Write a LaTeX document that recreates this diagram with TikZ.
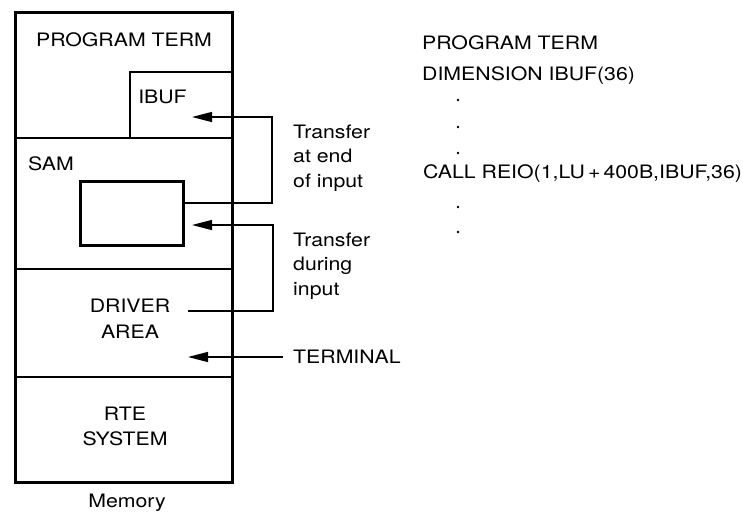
\documentclass[tikz,border=0pt]{standalone}
\usepackage{fontspec}
\setmainfont{TeX Gyre Heros}[FakeStretch=1.15]
\usetikzlibrary{arrows.meta}
\begin{document}
\begin{tikzpicture}[x=1pt,y=-1pt,
  txt/.style={font=\fontsize{18.5}{24.5}\selectfont, inner sep=0pt, anchor=base},
  ltxt/.style={txt, anchor=base west, align=left},
  memline/.style={line width=2pt},
  membox/.style={draw, line width=3pt, inner sep=0pt},
  conn/.style={line width=1.4pt},
  arr/.style={conn, -{Triangle[length=20pt,width=10pt]}},
  dotm/.style={circle, fill, inner sep=0pt, minimum size=2.6pt}]
\useasboundingbox (0,0) rectangle (743,517);
% memory outer box
\node[membox, minimum width=217pt, minimum height=470pt] (mem) at (123.5,247) {};
% dividers
\coordinate (d1) at (15,138); \coordinate (d2) at (15,269); \coordinate (d3) at (15,377);
\draw[memline] (d1) -- (mem.east |- d1);
\draw[memline] (d2) -- (mem.east |- d2);
\draw[memline] (d3) -- (mem.east |- d3);
% IBUF box
\draw[memline] (130,138) coordinate (ibl) -- (130,72) coordinate (ibtl) -- (mem.east |- ibtl);
% SAM inner buffer
\node[membox, minimum width=103pt, minimum height=64pt] (sambuf) at (131.5,213) {};
% texts in memory
\node[txt] (pt) at (124,46) {PROGRAM TERM};
\node[txt] (ibuf) at (162.5,103) {IBUF};
\node[txt, anchor=base west] (sam) at (28,170) {SAM};
\node[txt] (drv1) at (130,312) {DRIVER};
\node[txt] (drv2) at (130,338) {AREA};
\node[txt] (rte1) at (125,420) {RTE};
\node[txt] (rte2) at (125,445) {SYSTEM};
\node[txt] (memlab) at (127,507) {Memory};
% connector labels (base anchor = last line)
\node[ltxt] (tend) at (293,187) {Transfer\\at end\\of input};
\node[ltxt] (tdur) at (293,295) {Transfer\\during\\input};
\node[txt, anchor=base west] (term) at (293,363) {TERMINAL};
% connectors
\coordinate (c1) at (272,203); \coordinate (c1t) at (272,117); \coordinate (ibin) at (192,117);
\draw[arr] (sambuf.east |- c1) -- (c1) -- (c1t) -- (ibin);
\coordinate (c2s) at (188,311); \coordinate (c2) at (273,311); \coordinate (c2t) at (273,225); \coordinate (samin) at (192,225);
\draw[arr] (c2s) -- (c2) -- (c2t) -- (samin);
\coordinate (drvin) at (188,357);
\draw[arr] (term.west |- drvin) ++(-10,0) coordinate (tw) (tw) -- (drvin);
% program text
\node[txt, anchor=base west] (p1) at (422,49) {PROGRAM TERM};
\node[txt, anchor=base west] (p2) at (422,80) {DIMENSION IBUF(36)};
\node[dotm] (dt1) at (458,100) {};
\node[dotm] (dt2) at (458,127) {};
\node[dotm] (dt3) at (458,153) {};
\node[txt, anchor=base west] (p3) at (423,178) {CALL REIO(1,LU\,+\,400B,IBUF,36)};
\node[dotm] (dt4) at (458,207) {};
\node[dotm] (dt5) at (458,232) {};
\end{tikzpicture}
\end{document}
